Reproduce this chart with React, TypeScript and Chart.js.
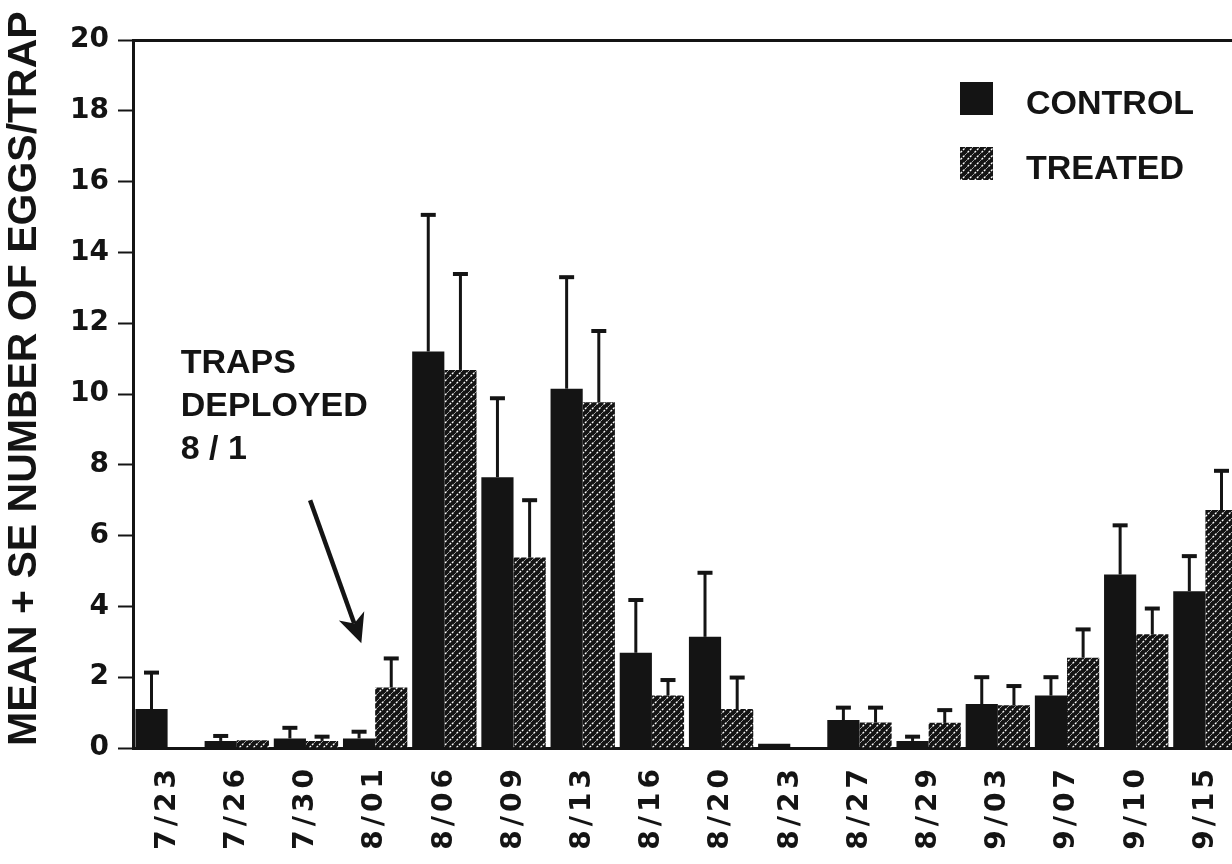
import React, { useEffect, useRef } from 'react';
import { Chart, registerables } from 'chart.js';

Chart.register(...registerables);

const INK = '#141414';

const dates = ['7/23', '7/26', '7/30', '8/01', '8/06', '8/09', '8/13', '8/16', '8/20', '8/23', '8/27', '8/29', '9/03', '9/07', '9/10', '9/15'];
const controlMean = [1.1, 0.2, 0.27, 0.27, 11.2, 7.65, 10.15, 2.69, 3.14, 0.12, 0.79, 0.2, 1.24, 1.48, 4.9, 4.43];
const controlSE = [1.03, 0.14, 0.3, 0.19, 3.86, 2.23, 3.15, 1.49, 1.81, 0, 0.35, 0.12, 0.76, 0.52, 1.39, 0.99];
const treatedMean = [0, 0.22, 0.2, 1.71, 10.68, 5.38, 9.77, 1.48, 1.1, 0, 0.72, 0.71, 1.21, 2.55, 3.21, 6.72];
const treatedSE = [0, 0, 0.12, 0.82, 2.71, 1.62, 2.01, 0.44, 0.89, 0, 0.42, 0.36, 0.54, 0.8, 0.73, 1.11];
const seriesNames = ['CONTROL', 'TREATED'];
const yAxisTitle = 'MEAN + SE NUMBER OF EGGS/TRAP';
const noteLines = ['TRAPS', 'DEPLOYED', '8 / 1'];
const notePos = { x: 0.19, y: 10.6 };
const arrowTail = { x: 2.06, y: 7.0 };
const arrowTip = { x: 2.8, y: 2.96 };

function makeHatch(): CanvasPattern | string {
  const c = document.createElement('canvas');
  c.width = 7;
  c.height = 7;
  const g = c.getContext('2d');
  if (!g) return INK;
  g.fillStyle = INK;
  g.fillRect(0, 0, 7, 7);
  g.strokeStyle = '#ffffff';
  g.lineWidth = 1.3;
  g.setLineDash([2.2, 1.3]);
  g.beginPath();
  g.moveTo(-1, 8);
  g.lineTo(8, -1);
  g.stroke();
  return g.createPattern(c, 'repeat') || INK;
}

const overlay = {
  id: 'overlay',
  afterDatasetsDraw(chart: any) {
    const { ctx, chartArea } = chart;
    const xs = chart.scales.x;
    const ys = chart.scales.y;
    ctx.save();
    ctx.letterSpacing = '0px';
    // error bars (mean + SE)
    const seLists = [controlSE, treatedSE];
    chart.data.datasets.forEach((ds: any, di: number) => {
      const meta = chart.getDatasetMeta(di);
      meta.data.forEach((bar: any, i: number) => {
        const se = seLists[di][i];
        if (!se) return;
        const m = ds.data[i] as number;
        const top = ys.getPixelForValue(m + se);
        ctx.strokeStyle = INK;
        ctx.lineCap = 'butt';
        ctx.lineWidth = 3;
        ctx.beginPath();
        ctx.moveTo(bar.x, bar.y);
        ctx.lineTo(bar.x, top);
        ctx.stroke();
        ctx.lineWidth = 4;
        ctx.beginPath();
        ctx.moveTo(bar.x - 7.5, top);
        ctx.lineTo(bar.x + 7.5, top);
        ctx.stroke();
      });
    });

    // y-axis title
    ctx.save();
    ctx.translate(chartArea.left - 108, ys.bottom);
    ctx.rotate(-Math.PI / 2);
    ctx.font = 'bold 41px "Liberation Sans"';
    ctx.fillStyle = INK;
    ctx.textAlign = 'left';
    ctx.textBaseline = 'middle';
    ctx.fillText(yAxisTitle, 2, 0);
    ctx.restore();

    // annotation
    ctx.font = 'bold 34px "Liberation Sans"';
    ctx.fillStyle = INK;
    ctx.textAlign = 'left';
    ctx.textBaseline = 'alphabetic';
    const nx = xs.getPixelForValue(notePos.x);
    const ny = ys.getPixelForValue(notePos.y);
    noteLines.forEach((t, k) => ctx.fillText(t, nx, ny + k * 43));

    const ax0 = xs.getPixelForValue(arrowTail.x);
    const ay0 = ys.getPixelForValue(arrowTail.y);
    const ax1 = xs.getPixelForValue(arrowTip.x);
    const ay1 = ys.getPixelForValue(arrowTip.y);
    const dx = ax1 - ax0;
    const dy = ay1 - ay0;
    const len = Math.hypot(dx, dy);
    const ux = dx / len;
    const uy = dy / len;
    const headLen = 29;
    const headHalf = 13.5;
    const bx = ax1 - ux * headLen;
    const by = ay1 - uy * headLen;
    ctx.strokeStyle = INK;
    ctx.lineWidth = 4.5;
    ctx.beginPath();
    ctx.moveTo(ax0, ay0);
    ctx.lineTo(bx + ux * 8, by + uy * 8);
    ctx.stroke();
    ctx.beginPath();
    ctx.moveTo(ax1, ay1);
    ctx.lineTo(bx - uy * headHalf, by + ux * headHalf);
    ctx.lineTo(bx + ux * 8, by + uy * 8);
    ctx.lineTo(bx + uy * headHalf, by - ux * headHalf);
    ctx.closePath();
    ctx.fillStyle = INK;
    ctx.fill();

    // legend
    const lx = chartArea.left + 827;
    const ly = chartArea.top + 42;
    ctx.font = 'bold 34px "Liberation Sans"';
    ctx.textBaseline = 'alphabetic';
    chart.data.datasets.forEach((ds: any, k: number) => {
      const top = ly + k * 65;
      ctx.fillStyle = ds.backgroundColor;
      ctx.fillRect(lx, top, 33, 33);
      ctx.fillStyle = INK;
      ctx.fillText(ds.label, lx + 66, top + 32);
    });
    ctx.restore();
    // x tick labels (drawn after this hook) get wide letter spacing
    ctx.letterSpacing = '4px';
  },
  afterDraw(chart: any) {
    chart.ctx.letterSpacing = '0px';
  },
};

export default function App() {
  const ref = useRef<HTMLCanvasElement>(null);
  useEffect(() => {
    const canvas = ref.current;
    if (!canvas) return;
    const hatch = makeHatch();
    const chart = new Chart(canvas, {
      type: 'bar',
      data: {
        labels: dates,
        datasets: [
          { label: seriesNames[0], data: controlMean, backgroundColor: INK, borderWidth: 0 },
          { label: seriesNames[1], data: treatedMean, backgroundColor: hatch as any, borderWidth: 0 },
        ],
      },
      options: {
        responsive: true,
        maintainAspectRatio: false,
        animation: false,
        layout: { padding: { top: 40, right: 0, left: 0, bottom: 0 } },
        datasets: { bar: { categoryPercentage: 0.93, barPercentage: 1.0 } },
        plugins: { legend: { display: false }, tooltip: { enabled: false } },
        scales: {
          x: {
            grid: { display: false, drawTicks: false },
            border: { display: true, color: INK, width: 3 },
            ticks: {
              z: 1,
              autoSkip: false,
              minRotation: 90,
              maxRotation: 90,
              padding: 17,
              color: INK,
              font: { family: '"DejaVu Sans"', weight: 'bold', size: 28 },
            },
            afterFit: (s: any) => {
              s.height = 116;
              s.paddingRight = 0;
              s.paddingLeft = 0;
            },
          },
          y: {
            min: 0,
            max: 20,
            ticks: {
              stepSize: 2,
              padding: 9,
              color: INK,
              font: { family: '"DejaVu Sans"', weight: 'bold', size: 28 },
            },
            grid: {
              drawOnChartArea: true,
              tickLength: 15,
              color: (c: any) => (c.tick && c.tick.value === 20 ? INK : 'rgba(0,0,0,0)'),
              lineWidth: (c: any) => (c.tick && c.tick.value === 20 ? 3 : 1),
              tickColor: INK,
              tickWidth: 2,
            },
            border: { display: true, color: INK, width: 3 },
            afterFit: (s: any) => {
              s.width = 133;
            },
          },
        },
      },
      plugins: [overlay as any],
    });
    return () => chart.destroy();
  }, []);

  return (
    <div style={{ position: 'absolute', left: 0, top: 0, width: 1232, height: 864, overflow: 'hidden', background: '#fff' }}>
      <div style={{ position: 'relative', width: 1240, height: 864 }}>
        <canvas ref={ref} />
      </div>
    </div>
  );
}
